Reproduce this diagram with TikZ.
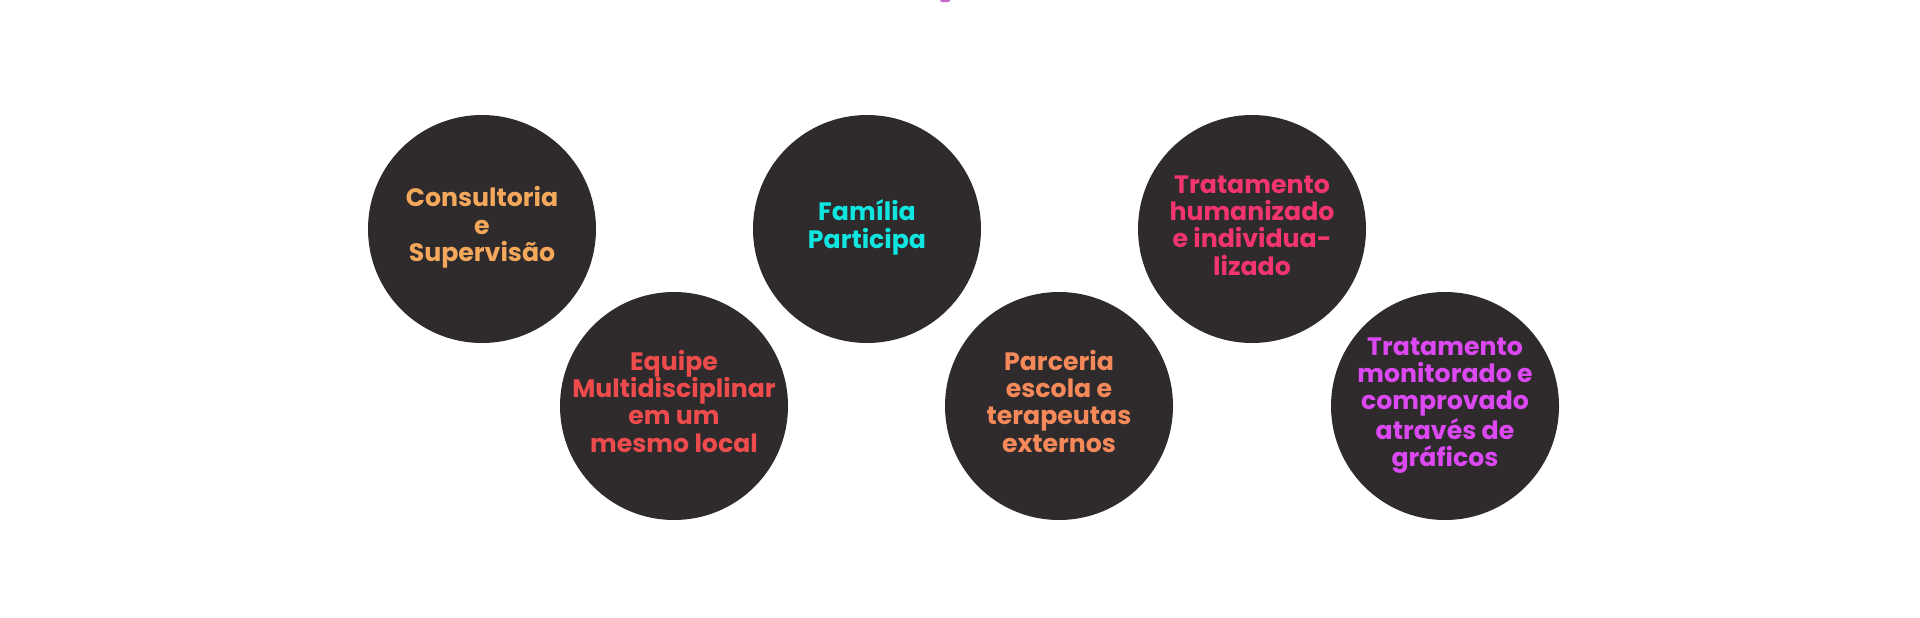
\documentclass[tikz,border=0pt]{standalone}
\usepackage{fontspec}
\setmainfont{Poppins}
\definecolor{disc}{HTML}{2F2A2C}
\definecolor{cOne}{HTML}{F4A85C}
\definecolor{cTwo}{HTML}{EE4B4D}
\definecolor{cThree}{HTML}{10E6E0}
\definecolor{cFour}{HTML}{F5895A}
\definecolor{cFive}{HTML}{F2356F}
\definecolor{cSix}{HTML}{DC48F2}
\definecolor{tmark}{HTML}{C468C8}
\newcommand{\TS}{\rule{0pt}{0.8em}}
\newcommand{\BS}{\rule[-0.4em]{0pt}{0.4em}}
\begin{document}
\begin{tikzpicture}[x=0.5pt,y=-0.5pt,
  disk/.style={circle,fill=disc,draw=none,minimum size=114pt,inner sep=0pt},
  lbl/.style={align=center,inner sep=0pt,font=\fontsize{12.6}{13.65}\selectfont\bfseries}]
\useasboundingbox (0,0) rectangle (1920,617);
\fill[white] (0,0) rectangle (1920,617);
\fill[fill=tmark,rounded corners=1pt] (940,-3) rectangle (950,2);
\node[disk] (c1) at (482,229) {};
\node[disk] (c2) at (674,406) {};
\node[disk] (c3) at (867,229) {};
\node[disk] (c4) at (1059,406) {};
\node[disk] (c5) at (1252,229) {};
\node[disk] (c6) at (1445,406) {};
\node[lbl,text=cOne] (t1) at (c1) {\TS Consultoria\\e\\Supervisão\BS};
\node[lbl,text=cTwo] (t2) at (c2) {\TS Equipe\\Multidisciplinar\\em um\\mesmo local\BS};
\node[lbl,text=cThree] (t3) at (c3) {\TS Família\\Participa\BS};
\node[lbl,text=cFour] (t4) at (c4) {\TS Parceria\\escola e\\terapeutas\\externos\BS};
\node[lbl,text=cFive] (t5) at (c5) {\TS Tratamento\\humanizado\\e individua-\\lizado\BS};
\node[lbl,text=cSix] (t6) at (c6) {\TS Tratamento\\monitorado e\\comprovado\\através de\\gráficos\BS};
\end{tikzpicture}
\end{document}
